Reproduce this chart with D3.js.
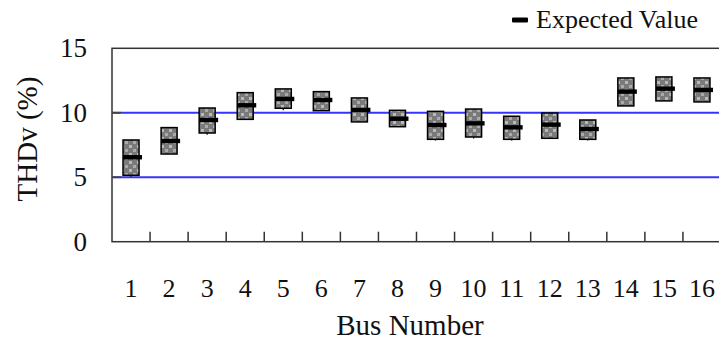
<!DOCTYPE html>
<html>
<head>
<meta charset="utf-8">
<script src="https://cdn.jsdelivr.net/npm/d3@7"></script>
<style>
  body { margin: 0; background: #fff; }
  svg text { font-family: 'Liberation Serif', 'Tinos', 'Times New Roman', 'DejaVu Serif', serif; fill: #111; }
</style>
</head>
<body>
<div id="graph"></div>
<script>
// THDv at each bus: box = spread, black bar = expected value

const buses      = d3.range(1, 17)
const boxHigh    = [7.89, 8.85, 10.37, 11.56, 11.85, 11.64, 11.15, 10.19, 10.11, 10.29, 9.73, 9.98, 9.44, 12.70, 12.78, 12.70]
const boxLow     = [5.15, 6.80, 8.43, 9.49, 10.35, 10.16, 9.29, 8.92, 7.94, 8.12, 7.94, 8.02, 7.94, 10.53, 10.92, 10.84]
const expected   = [6.55, 7.81, 9.44, 10.58, 11.07, 10.99, 10.22, 9.54, 9.05, 9.18, 8.87, 9.08, 8.74, 11.64, 11.87, 11.77]
const whiskerLow = [5.04, 6.80, 8.30, 9.49, 10.20, 10.16, 9.29, 8.92, 7.85, 8.00, 7.85, 8.02, 7.85, 10.53, 10.92, 10.84]
const yTicks     = [0, 5, 10, 15]
const gridVals   = [5, 10]

const ML = 112, MR = -2, MT = 48.3, MB = 99.3 // margins (right edge runs past the window)
const Wpx = 719, Hpx = 341
const W = Wpx - ML - MR
const H = Hpx - MT - MB

const x = d3.scaleBand(buses, [ML, ML + W])
const y = d3.scaleLinear([0, 15], [MT + H, MT])

const svg = d3.select('#graph').append('svg').attr('width', Wpx).attr('height', Hpx)
  .attr('font-family', "'Liberation Serif', serif")

// checkered fill of the boxes
const pat = svg.append('defs').append('pattern').attr('id', 'chk')
  .attr('patternUnits', 'userSpaceOnUse').attr('width', 8).attr('height', 8)
pat.append('rect').attr('width', 8).attr('height', 8).attr('fill', '#7a7a7a')
pat.append('rect').attr('x', 1).attr('y', 1).attr('width', 3).attr('height', 3).attr('fill', '#b8b8b8')
pat.append('rect').attr('x', 5).attr('y', 5).attr('width', 3).attr('height', 3).attr('fill', '#aaaaaa')

// blue gridlines
svg.selectAll('line.grid').data(gridVals).join('line').attr('class', 'grid')
  .attr('x1', ML).attr('x2', ML + W).attr('y1', d => y(d)).attr('y2', d => y(d))
  .attr('stroke', '#3535f8').attr('stroke-width', 1.8)

// frame
svg.append('rect').attr('x', ML).attr('y', MT).attr('width', W).attr('height', H)
  .attr('fill', 'none').attr('stroke', '#333').attr('stroke-width', 1.5)

// y axis: inward ticks and labels
svg.selectAll('line.ytk').data(gridVals).join('line').attr('class', 'ytk')
  .attr('x1', ML).attr('x2', ML + 9).attr('y1', d => y(d)).attr('y2', d => y(d))
  .attr('stroke', '#444').attr('stroke-width', 1.8)
svg.selectAll('text.ylab').data(yTicks).join('text').attr('class', 'ylab')
  .attr('x', 87).attr('y', d => y(d)).attr('dy', '0.34em')
  .attr('text-anchor', 'end').attr('font-size', 27).text(d => d)

// x axis: ticks between buses, pointing up
svg.selectAll('line.xtk').data(buses.slice(1)).join('line').attr('class', 'xtk')
  .attr('x1', d => x(d)).attr('x2', d => x(d)).attr('y1', MT + H).attr('y2', MT + H - 10)
  .attr('stroke', '#333').attr('stroke-width', 1.5)
svg.selectAll('text.xlab').data(buses).join('text').attr('class', 'xlab')
  .attr('x', d => x(d) + x.bandwidth() / 2).attr('y', 296.5)
  .attr('text-anchor', 'middle').attr('font-size', 26).text(d => d)

svg.append('text').attr('x', 410).attr('y', 335).attr('text-anchor', 'middle')
  .attr('font-size', 29).text('Bus Number')
svg.append('text').attr('transform', `translate(37,139) rotate(-90)`)
  .attr('text-anchor', 'middle').attr('font-size', 29).text('THDv (%)')

// boxes
const bw = 16
const rows = buses.map((b, i) => ({ b, hi: boxHigh[i], lo: boxLow[i], ev: expected[i], wl: whiskerLow[i] }))
const cx = d => x(d.b) + x.bandwidth() / 2
const g = svg.append('g')
g.selectAll('line.wh').data(rows).join('line').attr('class', 'wh')
  .attr('x1', cx).attr('x2', cx).attr('y1', d => y(d.lo)).attr('y2', d => y(d.wl))
  .attr('stroke', '#000').attr('stroke-width', 1.2)
g.selectAll('rect.box').data(rows).join('rect').attr('class', 'box')
  .attr('x', d => cx(d) - bw / 2).attr('width', bw)
  .attr('y', d => y(d.hi)).attr('height', d => y(d.lo) - y(d.hi))
  .attr('fill', 'url(#chk)').attr('stroke', '#000').attr('stroke-width', 1.5)
g.selectAll('rect.ev').data(rows).join('rect').attr('class', 'ev')
  .attr('x', d => cx(d) - bw / 2).attr('width', bw + 3)
  .attr('y', d => y(d.ev) - 2.2).attr('height', 4.4).attr('fill', '#000')

// legend
svg.append('rect').attr('x', 512).attr('y', 17.5).attr('width', 16).attr('height', 5).attr('rx', 1).attr('fill', '#000')
svg.append('text').attr('x', 536).attr('y', 28).attr('font-size', 26).text('Expected Value')
</script>
</body>
</html>
